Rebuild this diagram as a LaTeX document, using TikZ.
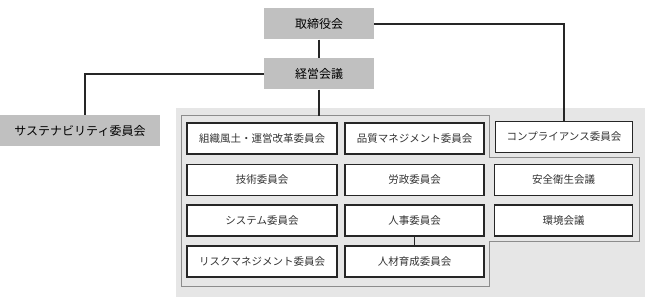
\documentclass[tikz,border=0pt]{standalone}
\usepackage{fontspec}
\setmainfont{Noto Sans CJK JP}
\usepackage{xcolor}
\definecolor{PanelGray}{HTML}{E6E6E6}
\definecolor{HeadGray}{HTML}{C0C0C0}
\definecolor{EdgeGray}{HTML}{8C8C8C}
\usepackage{tikz}
\usetikzlibrary{positioning}

\begin{document}
\begin{tikzpicture}[
        x=1pt, y=-1pt,
        head/.style={fill=HeadGray, draw=none, inner sep=0pt,
                     minimum height=31pt, font=\fontsize{12}{12}\selectfont},
        cmte/.style={draw=black!85, fill=white, line width=1.1pt, inner sep=0pt,
                     minimum height=31pt, text=black!80,
                     font=\fontsize{10.5}{10.5}\selectfont},
        link/.style={black!85, line width=1.1pt}
      ]
        \useasboundingbox (0,0) rectangle (645,307);
        % Background panel and committee group
        \fill[PanelGray] (176,108) rectangle (645,297);
        \draw[EdgeGray, line width=1pt, fill=PanelGray]
          (181,116) -- (489,116) -- (489,158) -- (639,158) -- (639,241)
          -- (489,241) -- (489,286) -- (181,286) -- cycle;
        % Top bodies
        \node[head, minimum width=110pt] (board) at (319,24) {取締役会};
        \node[head, minimum width=110pt] (mgmt) at (319,74) {経営会議};
        \node[head, minimum width=160pt] (sust) at (80,131) {サステナビリティ委員会};
        \node[cmte, minimum width=137pt] (comp) at (564,137) {コンプライアンス委員会};
        % Committees: column 1
        \foreach \i/\y/\lbl in {1/138.5/組織風土・運営改革委員会, 2/180/技術委員会,
                                3/220.5/システム委員会, 4/261.5/リスクマネジメント委員会}{
          \node[cmte, minimum width=150pt] (A\i) at (262,\y) {\lbl};
        }
        % Committees: column 2
        \foreach \i/\y/\lbl in {1/138.5/品質マネジメント委員会, 2/180/労政委員会,
                                3/220.5/人事委員会, 4/261.5/人材育成委員会}{
          \node[cmte, minimum width=139pt] (B\i) at (414.5,\y) {\lbl};
        }
        % Committees: column 3
        \foreach \i/\y/\lbl in {2/180/安全衛生会議, 3/220.5/環境会議}{
          \node[cmte, minimum width=138pt] (C\i) at (563.5,\y) {\lbl};
        }
        \coordinate (grp) at (319,116);
        \coordinate (sustin) at (85,115);
        % Lines
        \draw[link] (board) -- (mgmt);
        \draw[link] (mgmt) -- (grp);
        \draw[link] (mgmt.west) -| (sustin);
        \draw[link] (board.east) -| (comp.north);
        \draw[link] (B3) -- (B4);
      \end{tikzpicture}
\end{document}
